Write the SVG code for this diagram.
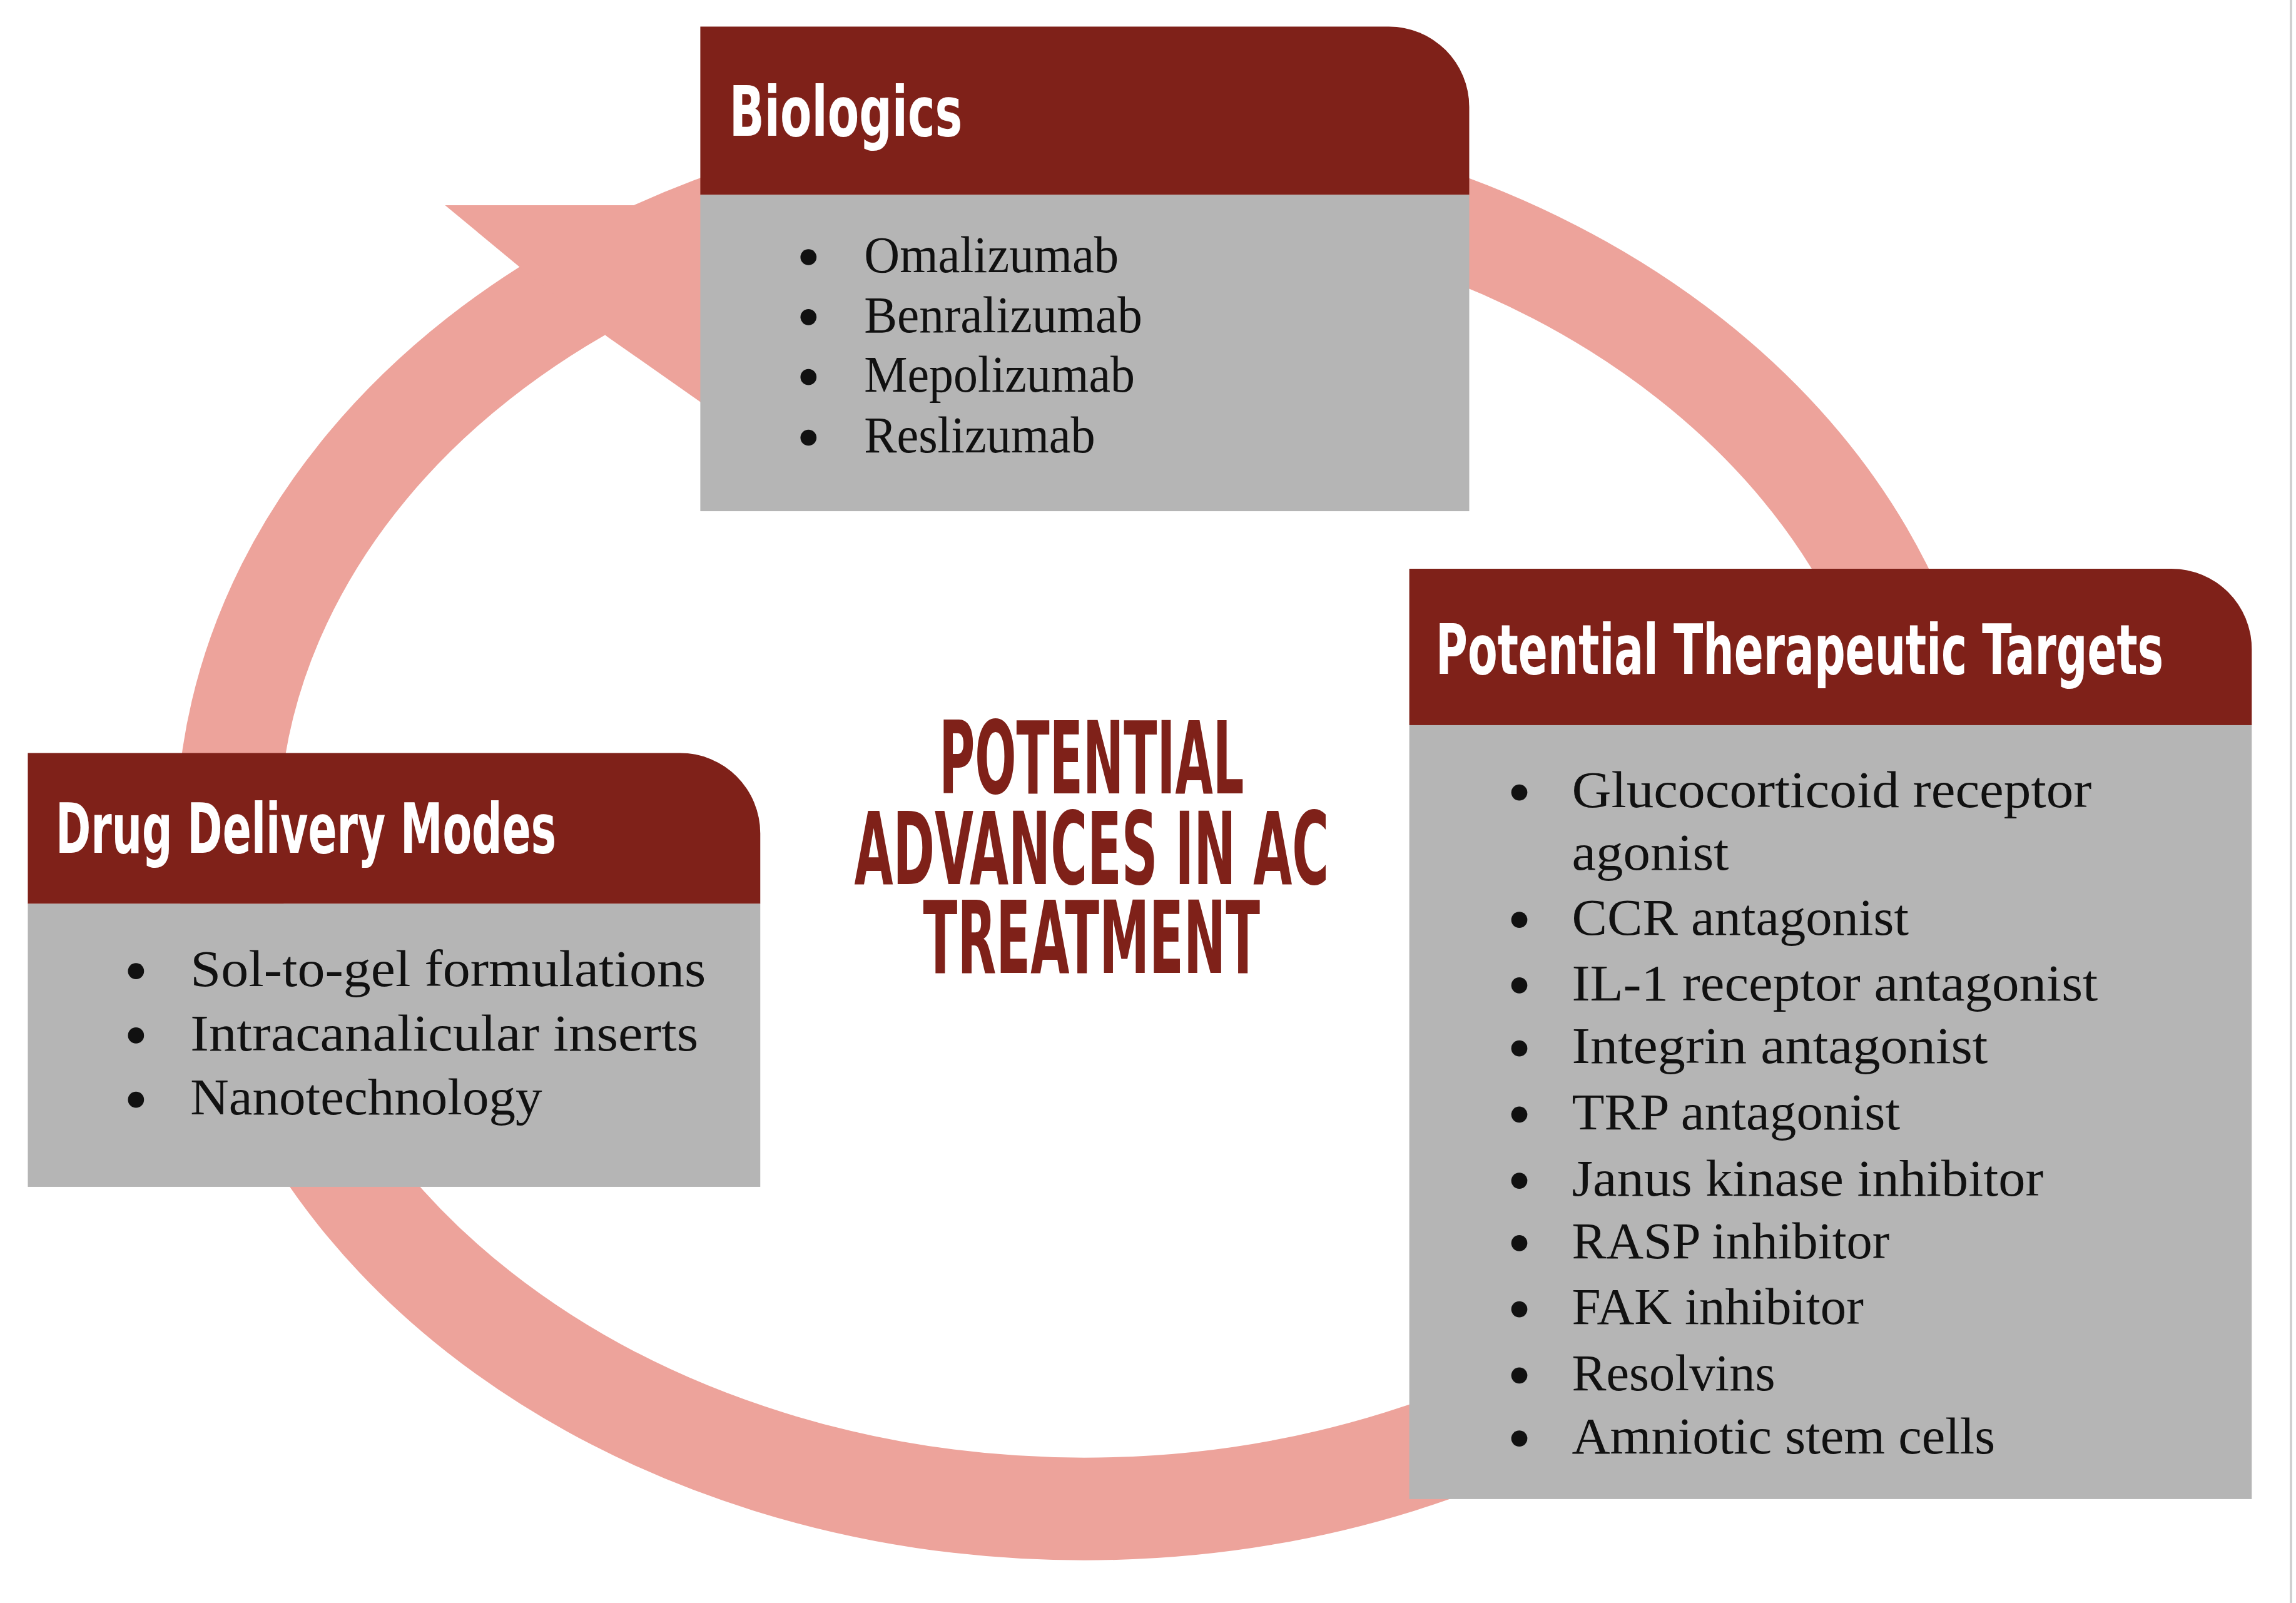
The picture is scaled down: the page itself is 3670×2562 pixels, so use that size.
<svg xmlns="http://www.w3.org/2000/svg" width="3670" height="2562" viewBox="0 0 3670 2562">
<style>
.hd{fill:#7f2119}.bd{fill:#b5b5b5}
.ht{font-family:"DejaVu Sans Condensed","DejaVu Sans",sans-serif;font-weight:bold;fill:#fff;font-size:112px}
.it{font-family:"Liberation Serif",serif;font-size:84px;fill:#111}
.bl{fill:#111}
.ct{font-family:"DejaVu Sans Condensed","DejaVu Sans",sans-serif;font-weight:bold;fill:#7f2119;font-size:162px;text-anchor:middle}
</style>
<rect width="3670" height="2562" fill="#fff"/>
<line x1="3662" y1="0" x2="3662" y2="2562" stroke="#d0d0d0" stroke-width="4"/>
<g transform="scale(0.988)">
<g id="connectors">
<ellipse cx="1754" cy="1351" rx="1386" ry="1090" fill="none" stroke="#eda39b" stroke-width="166"/>
<polygon points="720,332 1140,332 1140,655 983,545 848,438" fill="#eda39b"/>
</g>
<g id="biologics">
<path class="hd" d="M1133,43 H2247 A130,130 0 0 1 2377,173 V315 H1133 Z"/>
<rect class="bd" x="1133" y="315" width="1244" height="512"/>
<text class="ht" x="1180" y="220" textLength="377" lengthAdjust="spacingAndGlyphs">Biologics</text>
<g class="it">
<circle class="bl" cx="1308" cy="416" r="13"/><text x="1398" y="440" textLength="412" lengthAdjust="spacingAndGlyphs">Omalizumab</text>
<circle class="bl" cx="1308" cy="513" r="13"/><text x="1398" y="537" textLength="450" lengthAdjust="spacingAndGlyphs">Benralizumab</text>
<circle class="bl" cx="1308" cy="610" r="13"/><text x="1398" y="634" textLength="438" lengthAdjust="spacingAndGlyphs">Mepolizumab</text>
<circle class="bl" cx="1308" cy="708" r="13"/><text x="1398" y="732" textLength="374" lengthAdjust="spacingAndGlyphs">Reslizumab</text>
</g>
</g>
<g id="targets">
<path class="hd" d="M2280,920 H3513 A130,130 0 0 1 3643,1050 V1173 H2280 Z"/>
<rect class="bd" x="2280" y="1173" width="1363" height="1252"/>
<text class="ht" x="2323" y="1090" textLength="1177" lengthAdjust="spacingAndGlyphs">Potential Therapeutic Targets</text>
<g class="it">
<circle class="bl" cx="2458" cy="1282" r="13"/><text x="2543" y="1306" textLength="841" lengthAdjust="spacingAndGlyphs">Glucocorticoid receptor</text>
<text x="2543" y="1407" textLength="254" lengthAdjust="spacingAndGlyphs">agonist</text>
<circle class="bl" cx="2458" cy="1488" r="13"/><text x="2543" y="1512" textLength="545" lengthAdjust="spacingAndGlyphs">CCR antagonist</text>
<circle class="bl" cx="2458" cy="1594" r="13"/><text x="2543" y="1618" textLength="851" lengthAdjust="spacingAndGlyphs">IL-1 receptor antagonist</text>
<circle class="bl" cx="2458" cy="1696" r="13"/><text x="2543" y="1720" textLength="673" lengthAdjust="spacingAndGlyphs">Integrin antagonist</text>
<circle class="bl" cx="2458" cy="1803" r="13"/><text x="2543" y="1827" textLength="531" lengthAdjust="spacingAndGlyphs">TRP antagonist</text>
<circle class="bl" cx="2458" cy="1910" r="13"/><text x="2543" y="1934" textLength="763" lengthAdjust="spacingAndGlyphs">Janus kinase inhibitor</text>
<circle class="bl" cx="2458" cy="2011" r="13"/><text x="2543" y="2035" textLength="514" lengthAdjust="spacingAndGlyphs">RASP inhibitor</text>
<circle class="bl" cx="2458" cy="2118" r="13"/><text x="2543" y="2142" textLength="472" lengthAdjust="spacingAndGlyphs">FAK inhibitor</text>
<circle class="bl" cx="2458" cy="2225" r="13"/><text x="2543" y="2249" textLength="329" lengthAdjust="spacingAndGlyphs">Resolvins</text>
<circle class="bl" cx="2458" cy="2327" r="13"/><text x="2543" y="2351" textLength="685" lengthAdjust="spacingAndGlyphs">Amniotic stem cells</text>
</g>
</g>
<g id="delivery">
<path class="hd" d="M45,1218 H1100 A130,130 0 0 1 1230,1348 V1462 H45 Z"/>
<rect class="bd" x="45" y="1462" width="1185" height="458"/>
<text class="ht" x="90" y="1380" textLength="810" lengthAdjust="spacingAndGlyphs">Drug Delivery Modes</text>
<g class="it">
<circle class="bl" cx="220" cy="1571" r="13"/><text x="308" y="1595" textLength="834" lengthAdjust="spacingAndGlyphs">Sol-to-gel formulations</text>
<circle class="bl" cx="220" cy="1675" r="13"/><text x="308" y="1699" textLength="822" lengthAdjust="spacingAndGlyphs">Intracanalicular inserts</text>
<circle class="bl" cx="220" cy="1779" r="13"/><text x="308" y="1803" textLength="569" lengthAdjust="spacingAndGlyphs">Nanotechnology</text>
</g>
</g>
<g id="title">
<text class="ct" x="1766" y="1283" textLength="493" lengthAdjust="spacingAndGlyphs">POTENTIAL</text>
<text class="ct" x="1766" y="1430" textLength="768" lengthAdjust="spacingAndGlyphs">ADVANCES IN AC</text>
<text class="ct" x="1766" y="1574" textLength="545" lengthAdjust="spacingAndGlyphs">TREATMENT</text>
</g>
</g>
</svg>
